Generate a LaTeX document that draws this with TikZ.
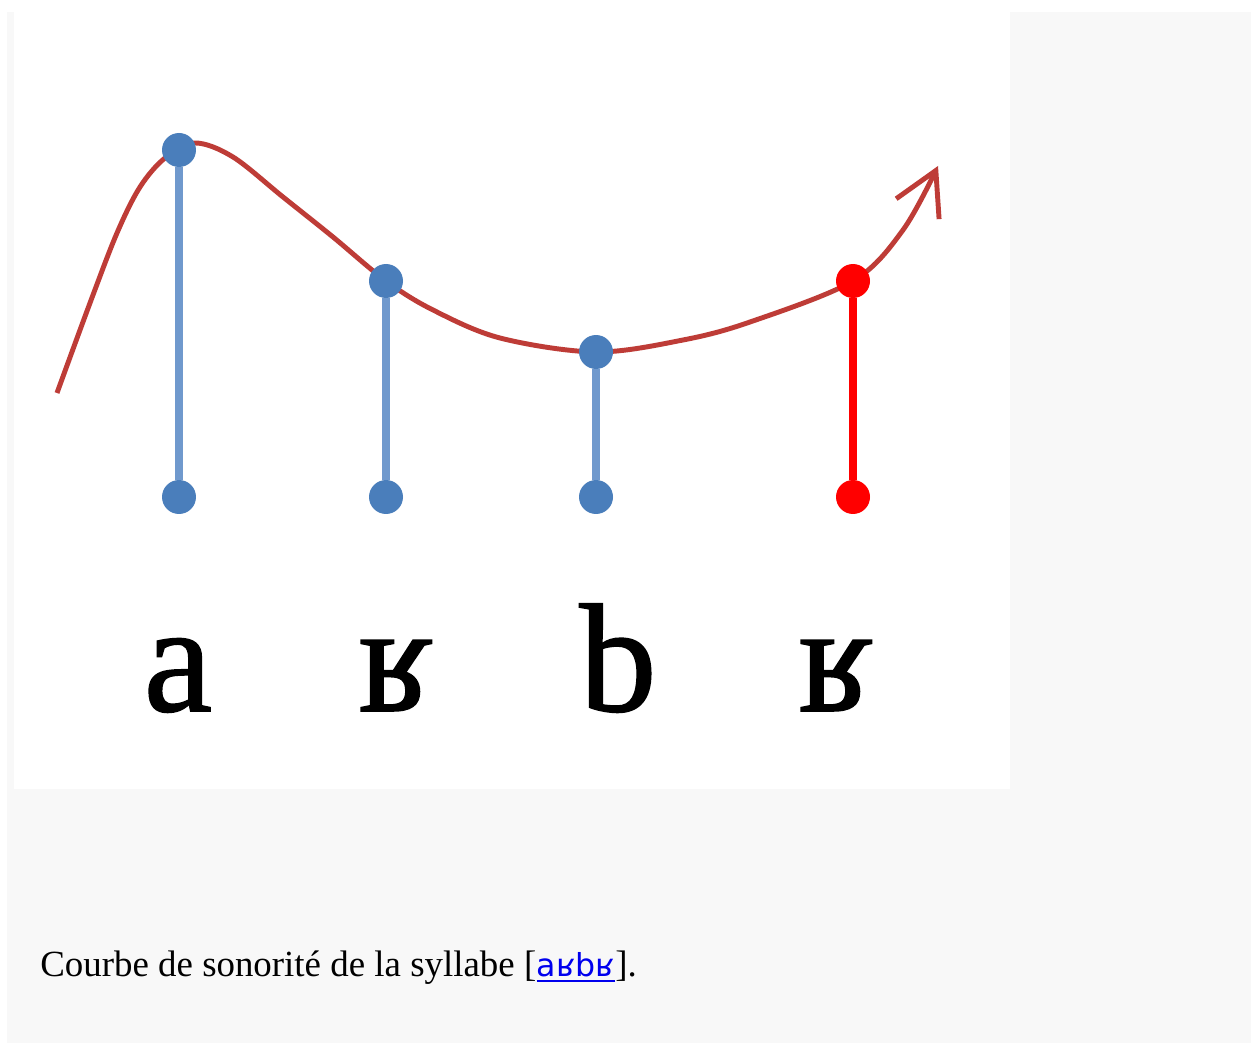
\documentclass[tikz,border=0pt]{standalone}
\usepackage{fontspec}
\setmainfont{Liberation Serif}
\newfontfamily\phonefont[FakeBold=1]{Liberation Serif}
\newfontfamily\linkfont{DejaVu Sans}
\usetikzlibrary{positioning,arrows.meta}
\pgfdeclarelayer{background}
\pgfsetlayers{background,main}
\definecolor{panelgrey}{HTML}{F8F8F8}
\definecolor{dotblue}{HTML}{4A7EBB}
\definecolor{stemblue}{HTML}{7099CD}
\definecolor{curvered}{HTML}{BE3C37}
\definecolor{linkblue}{HTML}{0000EE}

\begin{document}
\begin{tikzpicture}[x=0.02cm,y=-0.02cm,
  bluedot/.style={circle,fill=dotblue,inner sep=0pt,minimum size=0.68cm},
  reddot/.style={circle,fill=red,inner sep=0pt,minimum size=0.68cm},
  stem/.style={line width=4.6pt},
  phone/.style={anchor=base,inner sep=0pt,font=\phonefont\fontsize{88}{90}\selectfont},
  caption/.style={inner sep=0pt,font=\fontsize{21}{24}\selectfont}]
\useasboundingbox (0,0) rectangle (1251,1043);
\begin{pgfonlayer}{background}
\fill[panelgrey] (7,12) rectangle (1251,1043);
\fill[white] (14,12) rectangle (1010,789);
\end{pgfonlayer}
% sonority points
\node[bluedot] (top1) at (179,150) {};
\node[bluedot] (top2) at (386,281) {};
\node[bluedot] (top3) at (596,352) {};
\node[reddot] (top4) at (853,281) {};
\node[bluedot] (bot1) at (179,497) {};
\node[bluedot] (bot2) at (386,497) {};
\node[bluedot] (bot3) at (596,497) {};
\node[reddot] (bot4) at (853,497) {};
\draw[stem,stemblue] (top1) -- (bot1);
\draw[stem,stemblue] (top2) -- (bot2);
\draw[stem,stemblue] (top3) -- (bot3);
\draw[stem,red] (top4) -- (bot4);
% sonority curve
\coordinate (start) at (57,393);
\coordinate (tip) at (938,166);
\begin{pgfonlayer}{background}
\draw[curvered,line width=2.8pt,-{Straight Barb[length=0.85cm,width=0.95cm]}]
  plot[smooth,tension=0.55] coordinates {(start) (90,303) (117,233) (140,187)
  (165,158) (195,143) (233,157) (283,197) (333,237) (top2.center) (433,310)
  (500,338) (top3.center) (683,340) (750,322) (top4.center) (903,230) (tip)};
\end{pgfonlayer}
% phonemes
\node[phone] (a) at (178,711) {a};
\node[phone] (r1) at (396,711) {ʁ};
\node[phone] (b) at (618,711) {b};
\node[phone] (r2) at (836,711) {ʁ};
% caption
\node[caption,anchor=base west] (capt) at (40,976) {Courbe de sonorité de la syllabe [};
\node[caption,base right=0pt of capt,text=linkblue,font=\linkfont\fontsize{18}{20}\selectfont] (link) {aʁbʁ};
\node[caption,base right=0pt of link] (close) {].};
\draw[linkblue,line width=1.2pt] ([yshift=-3pt]link.base west) -- ([yshift=-3pt]link.base east);
\end{tikzpicture}
\end{document}
